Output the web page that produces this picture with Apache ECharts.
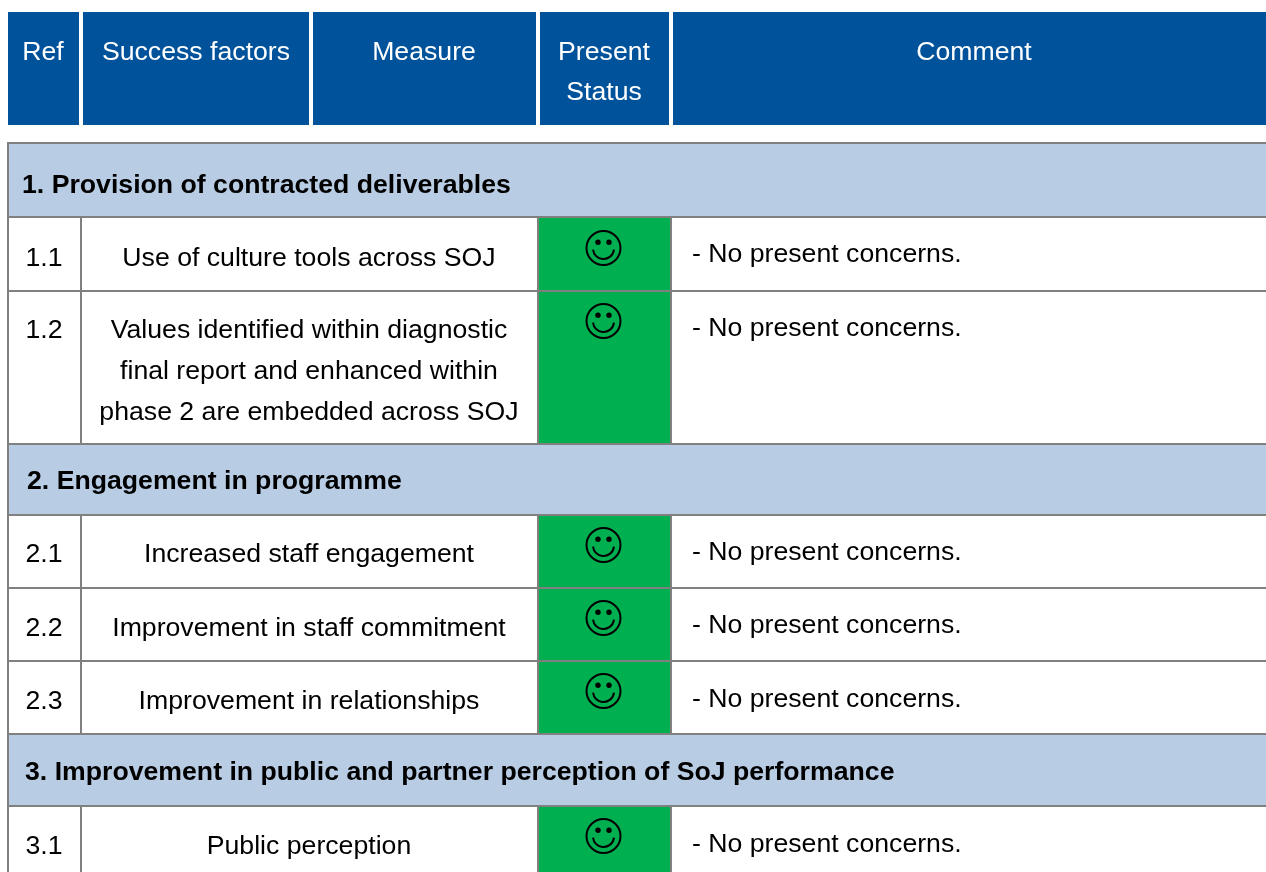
<!DOCTYPE html>
<html>
<head>
<meta charset="utf-8">
<title>Success factors</title>
<script src="https://cdn.jsdelivr.net/npm/echarts@6/dist/echarts.min.js"></script>
<style>
    html, body { margin: 0; padding: 0; background: #fff; overflow: hidden; }
    #table1 { width: 1266px; height: 872px; }
</style>
</head>
<body>
<div id="table1"></div>
<script>
// table content
var headers = ['Ref', 'Success factors', 'Measure', 'Present\nStatus', 'Comment'];
var sections = [
    '1. Provision of contracted deliverables',
    '2. Engagement in programme',
    '3. Improvement in public and partner perception of SoJ performance'
];
var refs = ['1.1', '1.2', '2.1', '2.2', '2.3', '3.1'];
var measures = [
    'Use of culture tools across SOJ',
    'Values identified within diagnostic\nfinal report and enhanced within\nphase 2 are embedded across SOJ',
    'Increased staff engagement',
    'Improvement in staff commitment',
    'Improvement in relationships',
    'Public perception'
];
var statuses = ['good', 'good', 'good', 'good', 'good', 'good'];
var comments = [
    '- No present concerns.',
    '- No present concerns.',
    '- No present concerns.',
    '- No present concerns.',
    '- No present concerns.',
    '- No present concerns.'
];

// layout, in page pixels
var headerCols = [[8, 79, 43], [83, 309, 196], [313, 536, 424], [540, 669, 604], [673, 1270, 974]];
var bodyCols = [8, 81, 538, 671, 1272];
var sectionBands = [[143, 217, 22, 186], [444, 515, 27, 482], [734, 806, 25, 773]];
var rowBands = [
    [217, 291, 259, 255, 248],
    [291, 444, 331, 329, 321],
    [515, 588, 555, 553, 545],
    [588, 661, 629, 626, 618],
    [661, 734, 702, 700, 691],
    [806, 885, 847, 845, 836]
];

var FONT = '"Liberation Sans", Arial, sans-serif';
var GREY = '#808080';

var cells = [];
var labels = [];
var faces = [];

headers.forEach(function (name, i) {
    var c = headerCols[i];
    cells.push({ value: [c[0], 12, c[1], 125], fill: '#00539b', stroke: null });
    labels.push({ value: [c[2], i == 3 ? 73 : 53], text: name, color: '#fff', align: 'center', weight: 'normal', lh: 40 });
});

sections.forEach(function (name, i) {
    var b = sectionBands[i];
    cells.push({ value: [bodyCols[0], b[0], bodyCols[4], b[1]], fill: '#b8cce4', stroke: GREY });
    labels.push({ value: [b[2], b[3]], text: name, color: '#000', align: 'left', weight: 'bold', lh: 30 });
});

refs.forEach(function (ref, i) {
    var r = rowBands[i];
    cells.push({ value: [bodyCols[0], r[0], bodyCols[1], r[1]], fill: '#fff', stroke: GREY });
    cells.push({ value: [bodyCols[1], r[0], bodyCols[2], r[1]], fill: '#fff', stroke: GREY });
    cells.push({ value: [bodyCols[2], r[0], bodyCols[3], r[1]], fill: statuses[i] == 'good' ? '#00b050' : '#fff', stroke: GREY });
    cells.push({ value: [bodyCols[3], r[0], bodyCols[4], r[1]], fill: '#fff', stroke: GREY });
    labels.push({ value: [44, r[2]], text: ref, color: '#000', align: 'center', weight: 'normal', lh: 41 });
    labels.push({ value: [309, i == 1 ? 372 : r[2]], text: measures[i], color: '#000', align: 'center', weight: 'normal', lh: 41 });
    labels.push({ value: [692, r[3]], text: comments[i], color: '#000', align: 'left', weight: 'normal', lh: 41 });
    faces.push({ value: [603.5, r[4]] });
});

function renderCell(params, api) {
    var item = cells[params.dataIndex];
    var p0 = api.coord([api.value(0), api.value(1)]);
    var p1 = api.coord([api.value(2), api.value(3)]);
    return {
        type: 'rect',
        shape: { x: p0[0], y: p0[1], width: p1[0] - p0[0], height: p1[1] - p0[1] },
        style: { fill: item.fill, stroke: item.stroke, lineWidth: item.stroke ? 2 : 0 }
    };
}

function renderLabel(params, api) {
    var item = labels[params.dataIndex];
    var p = api.coord([api.value(0), api.value(1)]);
    return {
        type: 'text',
        x: p[0],
        y: p[1],
        style: {
            text: item.text,
            fill: item.color,
            align: item.align,
            verticalAlign: 'middle',
            lineHeight: item.lh,
            font: item.weight + ' 26.67px ' + FONT
        }
    };
}

// smiley: outline, two eyes, mouth
function renderFace(params, api) {
    var c = api.coord([api.value(0), api.value(1)]);
    var black = { fill: 'none', stroke: '#000', lineWidth: 2 };
    return {
        type: 'group',
        children: [
            { type: 'circle', shape: { cx: c[0], cy: c[1], r: 17 }, style: black },
            { type: 'circle', shape: { cx: c[0] - 5.5, cy: c[1] - 5.7, r: 2.7 }, style: { fill: '#000' } },
            { type: 'circle', shape: { cx: c[0] + 5.5, cy: c[1] - 5.7, r: 2.7 }, style: { fill: '#000' } },
            {
                type: 'arc',
                shape: { cx: c[0], cy: c[1] + 0.5, r: 10.5, startAngle: 0.1, endAngle: Math.PI - 0.1 },
                style: black
            }
        ]
    };
}

var chart = echarts.init(document.querySelector('#table1'));

var tableOption = {
    animation: false,
    grid: { left: 0, right: 0, top: 0, bottom: 0 },
    xAxis: { type: 'value', min: 0, max: 1266, show: false },
    yAxis: { type: 'value', min: 0, max: 872, inverse: true, show: false },
    series: [
        { type: 'custom', coordinateSystem: 'cartesian2d', clip: true, silent: true, renderItem: renderCell, data: cells, z: 1 },
        { type: 'custom', coordinateSystem: 'cartesian2d', clip: true, silent: true, renderItem: renderFace, data: faces, z: 2 },
        { type: 'custom', coordinateSystem: 'cartesian2d', clip: true, silent: true, renderItem: renderLabel, data: labels, z: 3 }
    ]
};

chart.setOption(tableOption);

window.addEventListener('resize', function () {
    chart.resize();
});
</script>
</body>
</html>
